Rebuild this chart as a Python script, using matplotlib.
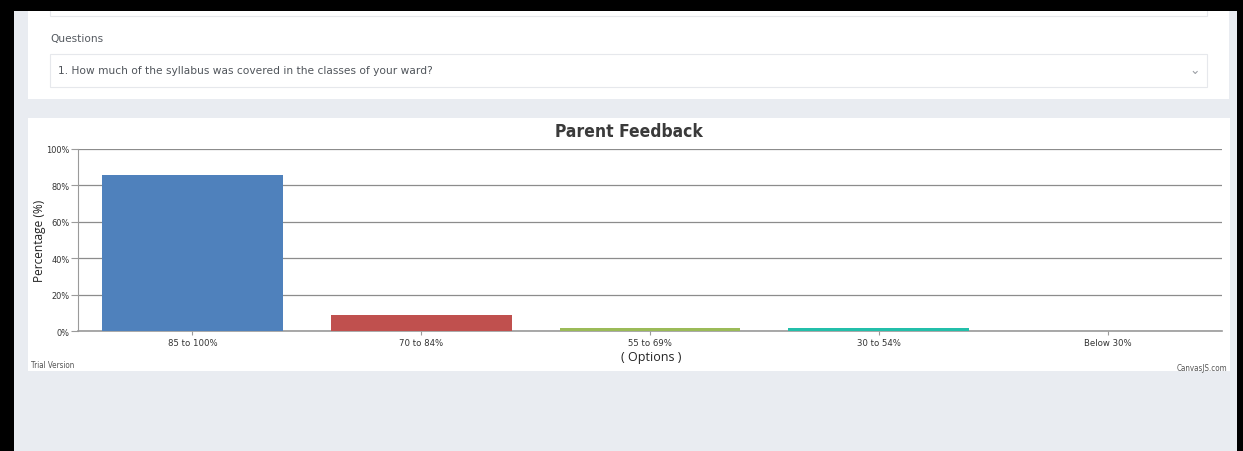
import matplotlib.pyplot as plt
from matplotlib.patches import Rectangle
from matplotlib.ticker import FuncFormatter

W, H = 1243, 452

# data
options = ["85 to 100%", "70 to 84%", "55 to 69%", "30 to 54%", "Below 30%"]
percent = [85.7, 8.8, 1.7, 1.7, 0.0]
colors = ["#4F81BC", "#C0504E", "#9BBB58", "#23BFAA", "#8064A1"]

question = "1. How much of the syllabus was covered in the classes of your ward?"


def fx(x):
    return x / W


def fy(y):
    return 1 - y / H


def box(fig, x0, y0, x1, y1, fc, ec="none", lw=0, z=-5):
    fig.patches.append(Rectangle((fx(x0), fy(y1)), fx(x1) - fx(x0), fy(y0) - fy(y1),
                                 transform=fig.transFigure, facecolor=fc,
                                 edgecolor=ec, linewidth=lw, zorder=z))


fig = plt.figure(figsize=(W / 100, H / 100), dpi=100)
fig.patch.set_facecolor("#000000")

#------------------------------ page background / panels
box(fig, 14, 12, 1237, 452, "#E9ECF1")
box(fig, 28, 12, 1229, 100, "#FFFFFF")
box(fig, 50, 5, 1207, 17, "#FFFFFF", "#E6E8EC", 0.8)
box(fig, 0, 0, 1243, 12, "#000000", z=-1)
box(fig, 50, 55, 1207, 88, "#FFFFFF", "#E6E8EC", 0.8)
box(fig, 28, 119, 1230, 372, "#FFFFFF")

fig.text(fx(50), fy(39), "Questions", fontsize=7.6, color="#555a60",
         family="DejaVu Sans", va="center")
fig.text(fx(58), fy(71), question, fontsize=7.7, color="#50555b",
         family="DejaVu Sans", va="center")
fig.text(fx(1195), fy(70), "\u2304", fontsize=9, color="#9a9ea4",
         ha="center", va="center")

#------------------------------ chart
ax = fig.add_axes([fx(78), fy(332), fx(1222) - fx(78), fy(150) - fy(332)])
ax.set_zorder(5)
ax.set_facecolor("none")
xs = range(len(options))
ax.bar(xs, percent, width=0.79, color=colors, zorder=3)
ax.set_xlim(-0.5, len(options) - 0.5)
ax.set_ylim(0, 100)
ax.set_yticks([0, 20, 40, 60, 80, 100])
ax.yaxis.set_major_formatter(FuncFormatter(lambda v, p: "%d%%" % v))
ax.set_xticks(list(xs))
ax.set_xticklabels(options)
ax.grid(axis="y", color="#8c8c8c", linewidth=0.9, zorder=1)
for s in ["top", "right"]:
    ax.spines[s].set_visible(False)
ax.spines["left"].set_color("#9a9a9a")
ax.spines["bottom"].set_color("#9a9a9a")
ax.spines["bottom"].set_linewidth(1.2)
ax.tick_params(axis="y", length=5, color="#9a9a9a", labelsize=6.6,
               labelcolor="#333333", pad=1)
ax.tick_params(axis="x", length=3, color="#9a9a9a", labelsize=6.8,
               labelcolor="#333333", pad=2)
for lbl in ax.get_xticklabels() + ax.get_yticklabels():
    lbl.set_family("DejaVu Sans")
    lbl.set_stretch("condensed")

fig.text(fx(629), fy(132), "Parent Feedback", fontsize=12.5, fontweight="heavy",
         family="DejaVu Sans", stretch="condensed", color="#3a3a3a",
         ha="center", va="center")
fig.text(fx(39), fy(241), "Percentage (%)", rotation=90, fontsize=8.6,
         family="Open Sans", color="#222222", ha="center", va="center")
fig.text(fx(651), fy(358), "( Options )", fontsize=9, family="Open Sans",
         color="#222222", ha="center", va="center")
fig.text(fx(31), fy(366), "Trial Version", fontsize=5.8, color="#555555",
         family="DejaVu Sans", stretch="condensed", va="center")
fig.text(fx(1227), fy(369), "CanvasJS.com", fontsize=5.8, color="#555555",
         family="DejaVu Sans", stretch="condensed", ha="right", va="center")

fig.savefig("out.png", dpi=100, facecolor=fig.get_facecolor())
